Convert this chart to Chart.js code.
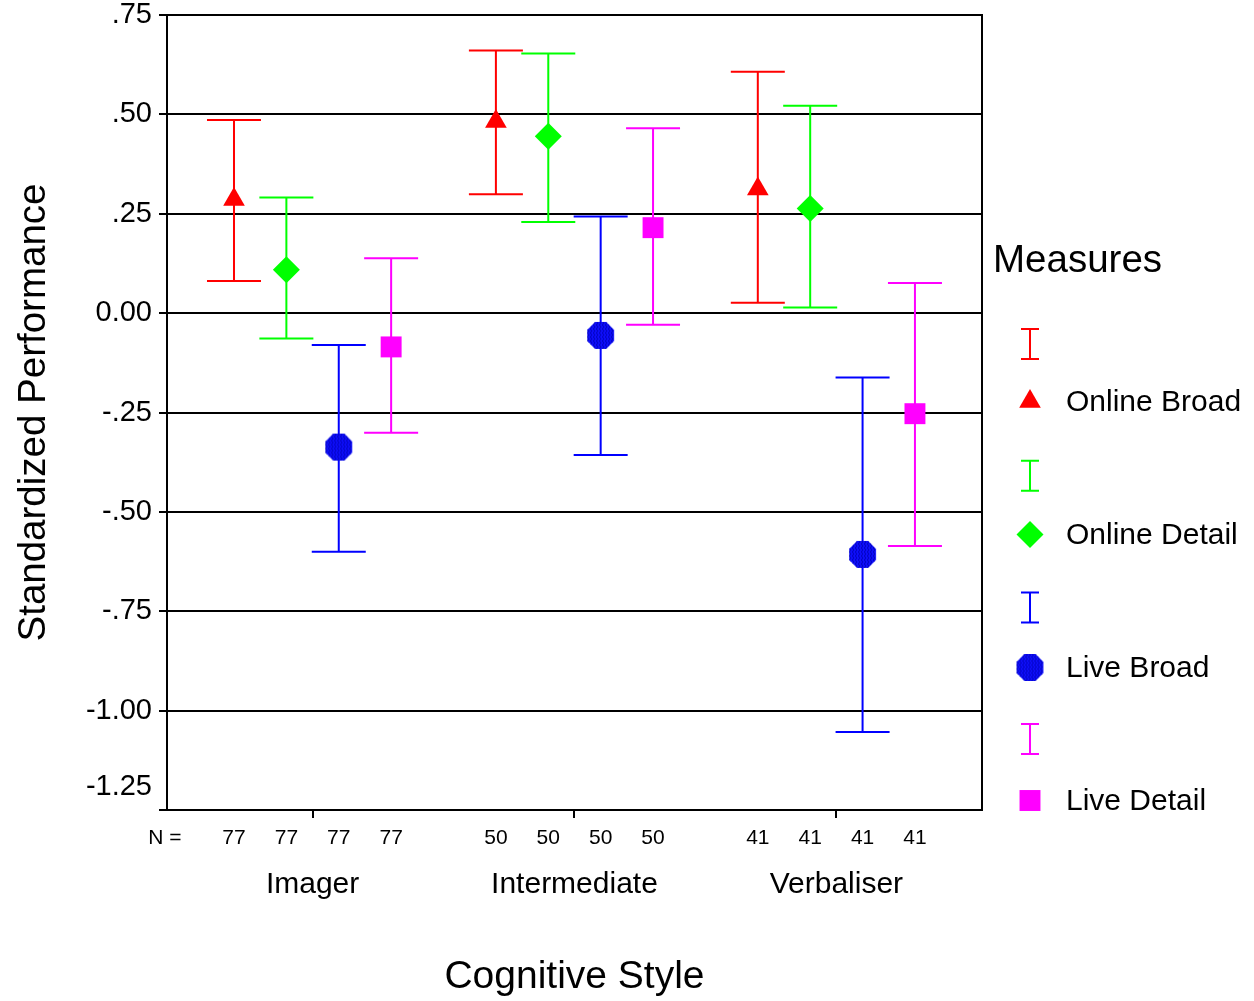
<!DOCTYPE html>
<html>
<head>
<meta charset="utf-8">
<script src="https://cdn.jsdelivr.net/npm/chart.js@4/dist/chart.umd.min.js"></script>
<style>
  html, body { margin: 0; padding: 0; background: #ffffff; }
  #wrap { width: 1254px; height: 1001px; }
</style>
</head>
<body>
<div id="wrap"><canvas id="c" width="1254" height="1001"></canvas></div>
<script>
// ---------- data ----------
const categories = ['Imager', 'Intermediate', 'Verbaliser'];
const nCounts = [77, 50, 41];
const seriesNames = ['Online Broad', 'Online Detail', 'Live Broad', 'Live Detail'];

const onlineBroadMean  = [0.286, 0.482, 0.312];
const onlineBroadLow   = [0.081, 0.299, 0.026];
const onlineBroadHigh  = [0.486, 0.661, 0.607];

const onlineDetailMean = [0.109, 0.445, 0.263];
const onlineDetailLow  = [-0.064, 0.229, 0.014];
const onlineDetailHigh = [0.291, 0.653, 0.522];

const liveBroadMean    = [-0.337, -0.056, -0.607];
const liveBroadLow     = [-0.600, -0.357, -1.054];
const liveBroadHigh    = [-0.080, 0.243, -0.162];

const liveDetailMean   = [-0.085, 0.215, -0.253];
const liveDetailLow    = [-0.301, -0.029, -0.586];
const liveDetailHigh   = [0.138, 0.465, 0.076];

const yTickValues = [-1.25, -1.0, -0.75, -0.5, -0.25, 0, 0.25, 0.5, 0.75];
const yTickLabels = ['-1.25', '-1.00', '-.75', '-.50', '-.25', '0.00', '.25', '.50', '.75'];

// ---------- styling ----------
const FONT = "'Liberation Sans', Arial, Helvetica, sans-serif";
const colors = ['#ff0000', '#00ff00', '#0000ff', '#ff00ff'];

// octagon marker image for Live Broad
function makeOctagon(size) {
  const cv = document.createElement('canvas');
  cv.width = size; cv.height = size;
  const g = cv.getContext('2d');
  const c = size / 2, r = size / 2;
  g.beginPath();
  for (let k = 0; k < 8; k++) {
    const a = Math.PI / 8 + k * Math.PI / 4;
    const px = c + r * Math.cos(a), py = c + r * Math.sin(a);
    if (k === 0) g.moveTo(px, py); else g.lineTo(px, py);
  }
  g.closePath();
  g.fillStyle = '#1010ff';
  g.fill();
  g.save();
  g.clip();
  g.strokeStyle = '#0000b4';
  g.lineWidth = 1;
  for (let xx = 2; xx < size; xx += 3) {
    g.beginPath();
    for (let yy = 0; yy <= size; yy += 2) {
      const off = ((yy / 2) % 2) ? 0.6 : -0.6;
      if (yy === 0) g.moveTo(xx + off, yy); else g.lineTo(xx + off, yy);
    }
    g.stroke();
  }
  g.restore();
  return cv;
}
const octImg = makeOctagon(29);

const pointStyles = ['triangle', 'rectRot', octImg, 'rect'];
const pointRadii = [12.5, 13.5, 14.5, 14.8];

const means = [onlineBroadMean, onlineDetailMean, liveBroadMean, liveDetailMean];
const lows  = [onlineBroadLow, onlineDetailLow, liveBroadLow, liveDetailLow];
const highs = [onlineBroadHigh, onlineDetailHigh, liveBroadHigh, liveDetailHigh];

const GROUP_STEP = 5;
const catCenters = categories.map((_, g) => g * GROUP_STEP + 1.5);

const datasets = seriesNames.map((name, s) => ({
  label: name,
  data: categories.map((_, g) => ({ x: g * GROUP_STEP + s, y: means[s][g] })),
  lows: lows[s],
  highs: highs[s],
  pointStyle: pointStyles[s],
  pointRadius: pointRadii[s],
  pointBackgroundColor: colors[s],
  pointBorderColor: colors[s],
  pointBorderWidth: 0,
  showLine: false,
  color: colors[s]
}));

const errorBarsPlugin = {
  id: 'errorBars',
  beforeDatasetsDraw(chart) {
    const ctx = chart.ctx;
    const xs = chart.scales.x, ys = chart.scales.y;
    ctx.save();
    chart.data.datasets.forEach((ds) => {
      ctx.strokeStyle = ds.color;
      ctx.lineWidth = 2;
      ds.data.forEach((p, i) => {
        const px = xs.getPixelForValue(p.x);
        const yl = ys.getPixelForValue(ds.lows[i]);
        const yh = ys.getPixelForValue(ds.highs[i]);
        const hw = 27;
        ctx.beginPath();
        ctx.moveTo(px, yl); ctx.lineTo(px, yh);
        ctx.moveTo(px - hw, yl); ctx.lineTo(px + hw, yl);
        ctx.moveTo(px - hw, yh); ctx.lineTo(px + hw, yh);
        ctx.stroke();
      });
    });
    ctx.restore();
  },
  afterDraw(chart) {
    const ctx = chart.ctx;
    const a = chart.chartArea;
    const xs = chart.scales.x;
    ctx.save();
    // frame top & right
    ctx.strokeStyle = '#000';
    ctx.lineWidth = 2;
    ctx.beginPath();
    ctx.moveTo(a.left, a.top); ctx.lineTo(a.right, a.top); ctx.lineTo(a.right, a.bottom);
    ctx.stroke();

    // N row
    ctx.fillStyle = '#000';
    ctx.font = '21px ' + FONT;
    ctx.textAlign = 'center';
    ctx.textBaseline = 'middle';
    ctx.fillText('N =', 165, 838);
    categories.forEach((_, g) => {
      seriesNames.forEach((__, s) => {
        const px = xs.getPixelForValue(g * GROUP_STEP + s);
        ctx.fillText(String(nCounts[g]), px, 838);
      });
    });

    // legend
    ctx.textAlign = 'left';
    ctx.font = '38.5px ' + FONT;
    ctx.fillText('Measures', 993, 261);
    ctx.font = '30px ' + FONT;
    seriesNames.forEach((name, s) => {
      const iy = 344 + s * 131.7;
      const my = 401.5 + s * 133;
      const lx = 1030;
      ctx.strokeStyle = colors[s];
      ctx.lineWidth = 2;
      ctx.beginPath();
      ctx.moveTo(lx, iy - 15); ctx.lineTo(lx, iy + 15);
      ctx.moveTo(lx - 9, iy - 15); ctx.lineTo(lx + 9, iy - 15);
      ctx.moveTo(lx - 9, iy + 15); ctx.lineTo(lx + 9, iy + 15);
      ctx.stroke();
      ctx.fillStyle = colors[s];
      Chart.helpers.drawPoint(ctx, {
        pointStyle: pointStyles[s], radius: pointRadii[s], rotation: 0, borderWidth: 0
      }, lx, my);
      ctx.fillStyle = '#000';
      ctx.fillText(name, 1066, my + 1);
    });
    ctx.restore();
  }
};

new Chart(document.getElementById('c'), {
  type: 'scatter',
  data: { datasets },
  plugins: [errorBarsPlugin],
  options: {
    responsive: false,
    animation: false,
    devicePixelRatio: 1,
    events: [],
    layout: { padding: { left: 0, right: 272, top: 15, bottom: 0 } },
    plugins: { legend: { display: false }, tooltip: { enabled: false } },
    scales: {
      x: {
        type: 'linear',
        min: -1.279,
        max: 14.28,
        afterFit(scale) { scale.height = 191; scale.paddingLeft = 0; scale.paddingRight = 0; },
        afterBuildTicks(scale) { scale.ticks = catCenters.map(v => ({ value: v })); },
        ticks: {
          autoSkip: false,
          maxRotation: 0,
          padding: 49,
          color: '#000',
          font: { family: FONT, size: 30 },
          callback: (v, i) => categories[i]
        },
        grid: { drawOnChartArea: false, drawTicks: true, tickLength: 8, color: '#000', lineWidth: 2 },
        border: { display: true, color: '#000', width: 2 },
        title: {
          display: true,
          text: 'Cognitive Style',
          color: '#000',
          font: { family: FONT, size: 39 },
          padding: { top: 0, bottom: 0 }
        }
      },
      y: {
        type: 'linear',
        min: -1.25,
        max: 0.75,
        afterFit(scale) { scale.width = 167; scale.paddingTop = 0; scale.paddingBottom = 0; },
        afterBuildTicks(scale) { scale.ticks = yTickValues.map(v => ({ value: v })); },
        ticks: {
          padding: 7,
          color: '#000',
          font: { family: FONT, size: 29, lineHeight: 1.6 },
          // the lowest label sits above the axis corner, as in the original
          callback: (v, i) => (i === 0 ? [yTickLabels[i], ''] : yTickLabels[i])
        },
        grid: { color: '#000', lineWidth: 2, tickLength: 8, drawTicks: true },
        border: { display: true, color: '#000', width: 2 },
        title: {
          display: true,
          text: 'Standardized Performance',
          color: '#000',
          font: { family: FONT, size: 38.5 },
          padding: { top: 11, bottom: 0 }
        }
      }
    }
  }
});
</script>
</body>
</html>
